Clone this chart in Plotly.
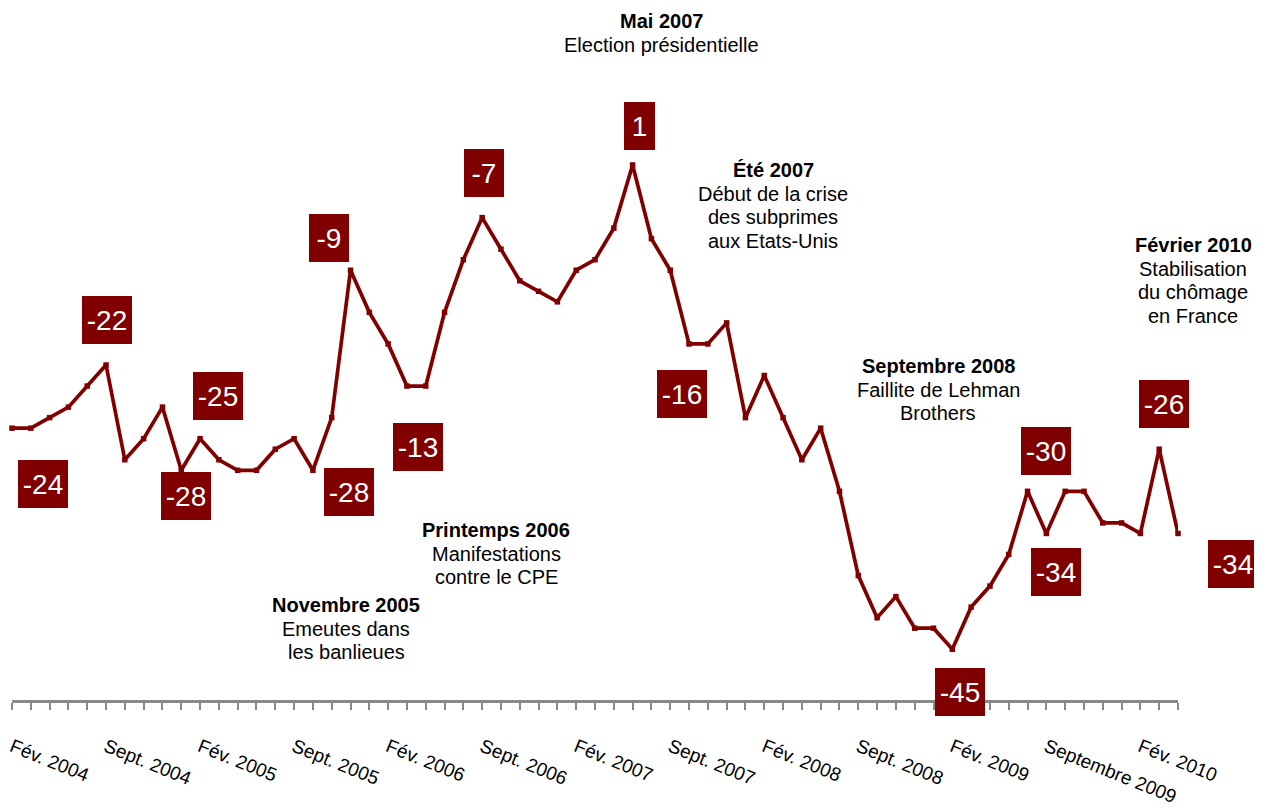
import plotly.graph_objects as go

# ---------------- data ----------------
values = [-24, -24, -23, -22, -20, -18, -27, -25, -22, -28,
          -25, -27, -28, -28, -26, -25, -28, -23, -9, -13,
          -16, -20, -20, -13, -8, -4, -7, -10, -11, -12,
          -9, -8, -5, 1, -6, -9, -16, -16, -14, -23,
          -19, -23, -27, -24, -30, -38, -42, -40, -43, -43,
          -45, -41, -39, -36, -30, -34, -30, -30, -33, -33,
          -34, -26, -34]
positions = list(range(len(values)))

tick_labels = ["Fév. 2004", "Sept. 2004", "Fév. 2005", "Sept. 2005", "Fév. 2006",
               "Sept. 2006", "Fév. 2007", "Sept. 2007", "Fév. 2008", "Sept. 2008",
               "Fév. 2009", "Septembre 2009", "Fév. 2010"]
tick_step = 5

label_texts = ["-24", "-22", "-28", "-25", "-28", "-9", "-13", "-7", "1",
               "-16", "-45", "-30", "-34", "-26", "-34"]
label_points = [0, 5, 9, 10, 16, 18, 22, 25, 33, 36, 50, 54, 55, 61, 62]

event_titles = ["Mai 2007", "Été 2007", "Novembre 2005", "Printemps 2006",
                "Septembre 2008", "Février 2010"]
event_lines = [["Election présidentielle"],
               ["Début de la crise", "des subprimes", "aux Etats-Unis"],
               ["Emeutes dans", "les banlieues"],
               ["Manifestations", "contre le CPE"],
               ["Faillite de Lehman", "Brothers"],
               ["Stabilisation", "du chômage", "en France"]]

# ---------------- layout / style ----------------
OFF = 8                      # page body margin
W, H = 1262 - OFF, 810 - OFF
ML, MR, MT, MB = 12 - OFF, 84, 70 - OFF, 110
PW, PH = W - ML - MR, H - MT - MB
RED = "#800000"

# label box offsets from their point (pixels, screen: +x right, +y down)
label_offsets = [(31, 56), (1, -45), (5, 26), (18, -43), (36, 22), (-22, -32),
                 (-8, 61), (2, -45), (7, -39), (-7, 50), (8, 43), (18, -40),
                 (10, 39), (5, -45), (55, 31)]
# event text blocks: centre x pixel, baseline of title pixel (page coords)
event_pos = [(661, 28), (773, 177), (346, 612), (496, 537), (938, 373), (1193, 252)]
line_gap = 23.5
ev_font = 20


def px_to_paper_x(px):
    return (px - OFF - ML) / PW


def px_to_paper_y(py):
    return (H - MB - (py - OFF)) / PH


fig = go.Figure()
fig.add_trace(go.Scatter(
    x=positions, y=values, mode="lines+markers",
    line=dict(color=RED, width=3.7),
    marker=dict(symbol="square", size=5.5, color=RED),
    cliponaxis=False, hoverinfo="skip",
))

annotations = []
for txt, idx, (dx, dy) in zip(label_texts, label_points, label_offsets):
    n = len(txt)
    bw = 31 if n == 1 else (40 if n == 2 else 50)
    annotations.append(dict(
        x=positions[idx], y=values[idx], xref="x", yref="y",
        text=txt, showarrow=False, xanchor="center", yanchor="middle",
        xshift=dx, yshift=-dy, width=bw, height=48,
        bgcolor=RED, borderpad=0, borderwidth=0,
        font=dict(family="Liberation Sans, Arial", size=28, color="white"),
    ))

for title, lines, (cx, by) in zip(event_titles, event_lines, event_pos):
    all_lines = ["<b>" + title + "</b>"] + lines
    for k, ln in enumerate(all_lines):
        base = by + k * line_gap
        annotations.append(dict(
            x=px_to_paper_x(cx), y=px_to_paper_y(base + 4.2), xref="paper", yref="paper",
            text=ln, showarrow=False, xanchor="center", yanchor="bottom",
            borderpad=0, borderwidth=0,
            font=dict(family="Liberation Sans, Arial", size=ev_font, color="#000000"),
        ))

ticktext = [tick_labels[i // tick_step] if i % tick_step == 0 else "" for i in positions]

fig.update_layout(
    width=W, height=H, margin=dict(l=ML, r=MR, t=MT, b=MB, pad=0, autoexpand=False),
    paper_bgcolor="white", plot_bgcolor="white", showlegend=False,
    annotations=annotations,
    xaxis=dict(range=[0, len(values) - 1], tickvals=positions, ticktext=ticktext,
               tickangle=22, ticks="outside", ticklen=7, tickwidth=1.5,
               tickcolor="#888888", showline=True, linecolor="#888888", linewidth=2.5,
               showgrid=False, zeroline=False, ticklabelstandoff=19,
               ticklabeloverflow="allow", automargin=False,
               tickfont=dict(family="Liberation Sans, Arial", size=19, color="#000000")),
    yaxis=dict(range=[-49.82, 10.02], visible=False, showgrid=False, zeroline=False,
               automargin=False),
)

fig.write_html("out.html")
